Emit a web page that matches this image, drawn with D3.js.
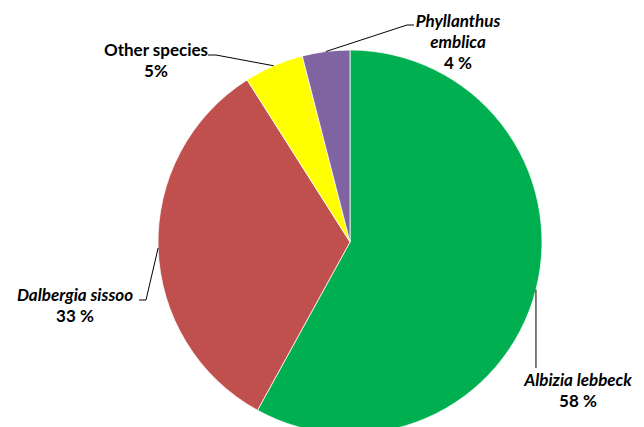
<!DOCTYPE html>
<html>
<head>
<meta charset="utf-8">
<script src="https://cdn.jsdelivr.net/npm/d3@7"></script>
<style>
  html, body { margin: 0; padding: 0; background: #fff; }
  svg { display: block; }
  text { font-family: Lato, "Open Sans", sans-serif; font-weight: bold; font-size: 17px; fill: #000; }
</style>
</head>
<body>
<svg id="chart" width="644" height="427"></svg>
<script>
// Tree species composition (share of individuals, %)
const species = ["Albizia lebbeck", "Dalbergia sissoo", "Other species", "Phyllanthus emblica"];
const shares = [58, 33, 5, 4];
const shareSeparators = [" ", " ", "", " "];
const colors = ["#00B050", "#C0504D", "#FFFF00", "#8064A2"];
const italicNames = [true, true, false, true];

// Label layout: text lines, text centre, first baseline, and leader elbow/end
const labelLayout = [
  { lines: ["Albizia lebbeck"], x: 578, y: 386, elbow: null, end: [537, 368] },
  { lines: ["Dalbergia sissoo"], x: 75, y: 301, elbow: [146, 300], end: [139, 300] },
  { lines: ["Other species"], x: 156, y: 56, elbow: [216, 55], end: [208, 55] },
  { lines: ["Phyllanthus", "emblica"], x: 458, y: 27, elbow: [407, 25], end: [414, 25] }
];

const cx = 350, cy = 242, radius = 192, lineStep = 21;

const svg = d3.select("#chart");
const g = svg.append("g").attr("transform", `translate(${cx},${cy})`);

const pie = d3.pie().sort(null).value(d => d.value);
const arcs = pie(species.map((name, i) => ({ name, value: shares[i], i })));
const arc = d3.arc().innerRadius(0).outerRadius(radius);

g.selectAll("path.slice")
  .data(arcs)
  .join("path")
  .attr("class", "slice")
  .attr("d", arc)
  .attr("fill", d => colors[d.data.i])
  .attr("stroke", "#fff")
  .attr("stroke-width", 0.75);

// Leader lines from the mid-angle of each slice at the rim
arcs.forEach(d => {
  const a = (d.startAngle + d.endAngle) / 2;
  const rim = [cx + radius * Math.sin(a), cy - radius * Math.cos(a)];
  const L = labelLayout[d.data.i];
  const pts = [rim];
  if (L.elbow) pts.push(L.elbow);
  if (L.end) pts.push(L.end);
  if (!L.elbow && L.end) pts[1] = [rim[0], L.end[1]];
  svg.append("path")
    .attr("d", d3.line()(pts))
    .attr("fill", "none")
    .attr("stroke", "#000")
    .attr("stroke-width", 1);
});

// Labels: species name (italic for binomials) and share
arcs.forEach(d => {
  const i = d.data.i;
  const L = labelLayout[i];
  const t = svg.append("text").attr("text-anchor", "middle");
  L.lines.forEach((line, k) => {
    t.append("tspan")
      .attr("x", L.x)
      .attr("y", L.y + k * lineStep)
      .style("font-style", italicNames[i] ? "italic" : "normal")
      .text(line);
  });
  t.append("tspan")
    .attr("x", L.x)
    .attr("y", L.y + L.lines.length * lineStep)
    .text(shares[i] + shareSeparators[i] + "%");
});
</script>
</body>
</html>
